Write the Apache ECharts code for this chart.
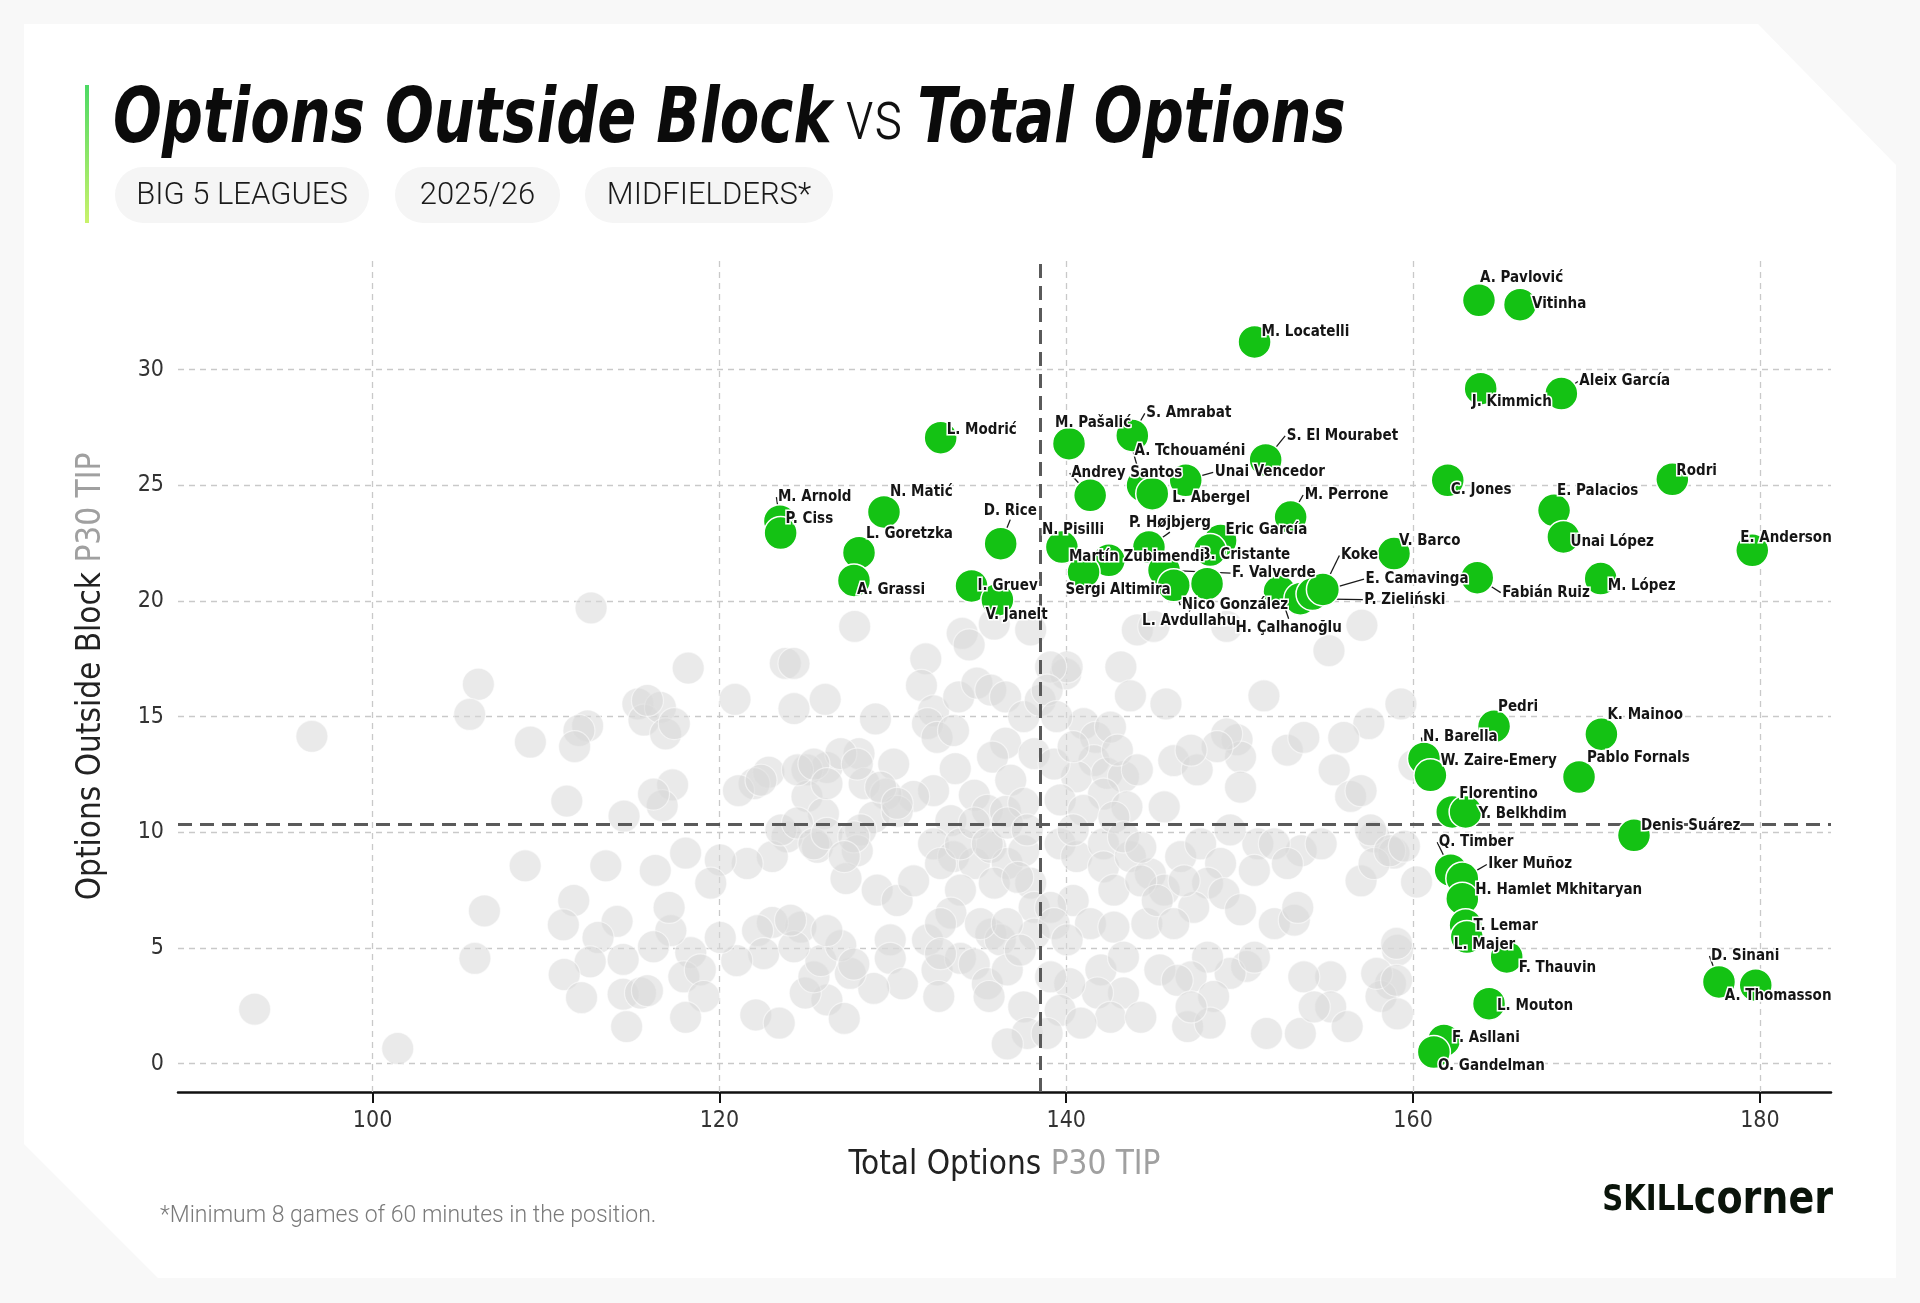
<!DOCTYPE html>
<html>
<head>
<meta charset="utf-8">
<script src="https://cdn.jsdelivr.net/npm/echarts@6/dist/echarts.min.js"></script>
<style>
  html,body{margin:0;padding:0;background:#f8f8f8;}
  #card{position:absolute;left:24px;top:24px;width:1872px;height:1254px;background:#fff;
    clip-path:polygon(0 0, 1734px 0, 1872px 141px, 1872px 1254px, 134px 1254px, 0 1120px);}
  #chart{position:absolute;left:0;top:0;width:1920px;height:1303px;}
</style>
</head>
<body>
<div id="card"></div>
<div id="chart"></div>
<script>
// ---------- DATA ----------
const xTicks = [100, 120, 140, 160, 180];
const yTicks = [0, 5, 10, 15, 20, 25, 30];
const meanTotal = 138.52;
const meanOutside = 10.33;

const greenNames = ["L. Modrić","M. Arnold","P. Ciss","N. Matić","L. Goretzka","A. Grassi","D. Rice","I. Gruev","V. Janelt",
 "M. Pašalić","S. Amrabat","A. Tchouaméni","Andrey Santos","L. Abergel","Unai Vencedor","S. El Mourabet","M. Perrone",
 "Eric García","B. Cristante","P. Højbjerg","N. Pisilli","Martín Zubimendi","Sergi Altimira","F. Valverde","Nico González",
 "L. Avdullahu","H. Çalhanoğlu","P. Zieliński","E. Camavinga","Koke","V. Barco","M. Locatelli",
 "A. Pavlović","Vitinha","J. Kimmich","Aleix García","C. Jones","E. Palacios","Unai López","Rodri","E. Anderson","Fabián Ruiz","M. López",
 "Pedri","K. Mainoo","N. Barella","W. Zaire-Emery","Pablo Fornals","Florentino","Y. Belkhdim","Denis Suárez","Q. Timber","Iker Muñoz",
 "H. Hamlet Mkhitaryan","T. Lemar","L. Majer","F. Thauvin","D. Sinani","A. Thomasson","L. Mouton","F. Asllani","O. Gandelman"];
const greenTotal = [132.76,123.49,123.53,129.49,128.05,127.76,136.22,134.54,136.03,
 140.16,143.81,144.4,141.38,144.96,146.89,151.5,152.94,
 148.9,148.3,144.77,139.75,142.46,141.0,145.64,146.2,
 148.12,152.3,153.5,154.2,154.8,158.9,150.86,
 163.8,166.17,163.9,168.55,162.0,168.13,168.67,174.95,179.56,163.7,170.82,
 164.67,170.86,160.63,161.0,169.57,162.26,163.03,172.74,162.17,162.84,
 162.84,163.03,163.1,165.4,177.64,179.76,164.38,161.78,161.2];
const greenOutside = [27.06,23.45,22.94,23.85,22.09,20.89,22.48,20.65,20.05,
 26.8,27.16,25.0,24.57,24.64,25.22,26.1,23.63,
 22.62,22.2,22.33,22.33,21.76,21.25,21.33,20.68,
 20.75,20.4,20.1,20.3,20.5,22.05,31.2,
 33.0,32.81,29.18,28.97,25.22,23.92,22.77,25.26,22.19,21.01,20.97,
 14.58,14.24,13.19,12.46,12.39,10.88,10.88,9.87,8.36,8.0,
 7.13,5.98,5.47,4.61,3.53,3.39,2.59,1.0,0.5];

const grayTotal = [112.6,106.1,105.6,96.5,109.1,112.4,111.9,111.65,115.3,115.65,111.2,114.5,108.8,113.45,106.45,111.6,111.0,114.1,113.0,105.9,112.55,114.45,111.05,112.05,114.45,115.45,114.65,93.2,101.45,
 127.8,118.2,123.8,124.3,120.9,124.3,126.1,129.0,116.6,116.9,117.4,115.85,117.3,116.7,131.9,131.65,134.0,134.4,135.85,137.95,132.35,132.0,132.55,133.5,133.8,134.85,135.65,136.5,137.55,136.5,135.75,136.8,138.15,133.6,134.7,135.45,136.5,137.55,132.35,133.35,131.2,130.05,128.05,128.35,129.6,126.2,125.05,122.85,122.0,121.1,125.05,126.0,128.9,130.25,128.15,125.65,123.9,123.05,121.6,120.05,119.5,118.05,116.3,127.95,127.3,129.1,130.25,131.2,132.35,133.5,134.7,133.9,135.65,136.6,137.55,135.85,137.95,133.35,135.65,138.15,138.15,132.0,129.85,129.85,132.55,133.9,134.7,136.2,135.45,136.6,132.65,137.55,137.75,136.6,130.55,128.9,127.55,126.2,127.2,124.95,125.45,125.85,127.0,124.7,123.05,122.2,122.55,124.3,121.0,120.05,118.35,117.95,118.9,117.2,117.1,115.85,119.1,118.05,122.1,123.45,116.2,135.55,116.2,127.0,127.95,129.3,130.25,
 122.4,124.5,125.45,126.2,123.55,124.5,125.45,126.2,127.75,127.2,132.75,133.9,134.7,135.45,136.6,137.75,137.2,132.75,135.05,136.6,137.35,132.75,124.1,126.2,127.75,138.5,139.97,
 144.1,145.05,149.25,157.05,155.15,140.05,143.15,143.7,145.75,151.4,159.3,139.1,138.9,141.0,141.7,142.55,141.6,140.6,142.35,143.3,139.3,139.65,142.15,143.5,145.65,146.2,147.55,149.85,150.05,150.05,149.25,152.75,153.7,155.45,156.4,157.45,156.0,
 139.65,140.6,142.15,142.15,143.7,144.85,142.75,140.4,139.1,141.4,142.75,144.65,145.65,146.6,147.75,148.9,148.15,149.1,150.05,147.35,151.05,150.85,153.55,154.7,152.0,153.15,153.35,157.0,157.75,158.9,159.1,158.7,158.15,159.1,155.25,155.25,156.2,153.7,151.55,153.5,150.4,149.45,148.15,147.2,148.5,147.0,148.3,145.4,143.3,142.0,141.8,142.55,144.3,140.2,139.65,140.85,139.1,138.9,157.75,144.3,145.25,146.2,157.0,
 139.45,140.4,142.95,144.1,141.0,142.75,140.4,143.3,144.3,146.8,149.45,152.0,152.75,148.7,147.2,157.55,139.3,140.05,143.3,146.4,147.2,150.85,154.3,157.9,
 160.05,158.65,159.05,159.05,160.2,159.5];
const grayOutside = [19.7,16.4,15.1,14.15,13.9,14.6,14.4,13.7,15.55,14.85,11.35,10.7,8.55,8.55,6.6,7.05,6.0,6.15,5.45,4.55,4.4,4.5,3.85,2.85,3.0,3.05,1.6,2.35,0.65,
 18.9,17.1,17.3,17.3,15.75,15.35,15.75,14.9,15.4,14.25,14.7,15.7,12.05,11.15,17.5,16.35,18.6,18.1,19.0,18.75,15.25,14.7,14.1,14.4,15.85,16.45,16.15,15.85,15.0,13.85,13.25,12.25,13.4,12.75,11.6,10.95,10.9,11.25,11.8,10.5,11.55,12.95,13.4,12.1,11.65,12.8,12.7,12.6,12.1,11.8,11.55,10.8,10.65,10.9,10.1,9.35,9.8,8.95,8.65,8.8,7.8,9.1,8.35,9.2,8.0,7.5,7.05,7.9,9.5,8.95,8.65,7.5,9.35,8.65,9.2,7.8,7.8,6.5,5.6,6.75,5.6,5.35,5.35,4.55,4.05,4.55,4.3,5.35,3.45,4.05,2.9,2.45,1.3,0.85,3.45,3.25,3.9,2.75,1.95,3.05,3.75,4.45,5.1,5.9,6.1,5.75,4.75,5.05,4.45,5.45,4.8,3.75,4.05,5.75,6.75,3.15,2.9,2.0,2.1,1.75,5.05,2.9,11.65,13.4,12.95,11.95,11.25,
 12.25,12.7,12.95,12.1,10.1,10.4,9.5,9.95,9.8,8.95,8.65,9.5,10.4,9.5,10.4,10.1,8.05,6.05,6.05,6.05,4.9,4.75,6.2,5.75,4.3,15.7,16.85,
 18.75,18.9,18.9,18.95,17.85,17.15,17.15,15.9,15.55,15.9,15.55,17.15,16.15,14.7,14.1,14.55,13.1,12.4,12.55,12.4,12.95,11.4,11.65,11.1,11.1,13.1,12.7,14.0,13.25,11.95,14.25,13.55,14.1,12.7,11.55,14.7,14.1,
 9.5,8.95,9.5,8.5,8.95,8.2,7.5,7.05,6.75,6.05,5.9,6.05,7.5,8.95,9.5,8.65,7.8,7.35,6.65,6.75,9.5,8.35,9.2,9.5,6.05,6.2,6.75,7.9,9.8,9.1,4.9,3.45,2.9,2.15,3.75,2.45,1.6,3.75,1.3,1.3,4.2,3.9,4.6,3.75,2.9,1.6,1.75,4.05,3.05,4.05,3.05,2.0,2.0,3.45,2.3,1.75,3.75,1.3,8.65,7.9,7.05,6.05,11.8,
 15.0,13.7,13.55,12.7,10.95,10.65,10.1,9.8,9.35,7.9,10.1,9.5,8.65,13.7,13.55,10.1,6.05,5.35,4.6,3.6,2.45,4.6,2.45,3.9,
 12.9,9.2,5.2,3.6,7.85,9.4];

// ---------- LAYOUT / STYLE (not data) ----------
const labelOffsets = {
 "L. Modrić":[6,-8],"M. Arnold":[-2,-24],"P. Ciss":[5,-14],"N. Matić":[6,-20],"L. Goretzka":[7,-19],"A. Grassi":[3,10],
 "D. Rice":[-17,-33],"I. Gruev":[6,0],"V. Janelt":[-12,15],
 "M. Pašalić":[-14,-21],"S. Amrabat":[14,-22],"A. Tchouaméni":[-8,-34],"Andrey Santos":[-19,-22],"L. Abergel":[20,4],
 "Unai Vencedor":[29,-8],"S. El Mourabet":[21,-24],"M. Perrone":[14,-22],"Eric García":[5,-10],"B. Cristante":[-10,5],
 "P. Højbjerg":[-20,-24],"N. Pisilli":[-20,-17],"Martín Zubimendi":[-40,-3],"Sergi Altimira":[-18,18],"F. Valverde":[68,3],
 "Nico González":[8,20],"L. Avdullahu":[-65,37],"H. Çalhanoğlu":[-44,36],"P. Zieliński":[64,1],"E. Camavinga":[53,-15],
 "Koke":[18,-34],"V. Barco":[5,-12],"M. Locatelli":[7,-10],
 "A. Pavlović":[1,-22],"Vitinha":[12,-1],"J. Kimmich":[-9,13],"Aleix García":[18,-12],"C. Jones":[3,10],"E. Palacios":[3,-19],
 "Unai López":[7,5],"Rodri":[4,-8],"E. Anderson":[-12,-12],"Fabián Ruiz":[25,15],"M. López":[7,8],
 "Pedri":[4,-19],"K. Mainoo":[6,-19],"N. Barella":[-1,-21],"W. Zaire-Emery":[10,-14],"Pablo Fornals":[8,-19],
 "Florentino":[7,-18],"Y. Belkhdim":[13,2],"Denis Suárez":[7,-9],"Q. Timber":[-12,-28],"Iker Muñoz":[26,-14],
 "H. Hamlet Mkhitaryan":[13,-9],"T. Lemar":[8,1],"L. Majer":[-13,8],"F. Thauvin":[12,11],"D. Sinani":[-8,-26],
 "A. Thomasson":[-31,11],"L. Mouton":[8,2],"F. Asllani":[8,-2],"O. Gandelman":[4,14]
};
const leaders = new Set(["M. Arnold","D. Rice","S. Amrabat","A. Tchouaméni","Andrey Santos","Unai Vencedor","S. El Mourabet",
 "M. Perrone","P. Højbjerg","F. Valverde","Nico González","L. Avdullahu","H. Çalhanoğlu","P. Zieliński","E. Camavinga","Koke",
 "Fabián Ruiz","Q. Timber","Iker Muñoz","N. Barella","D. Sinani","Aleix García"]);

const F = '"DejaVu Sans Condensed","Liberation Sans Narrow","Liberation Sans",sans-serif';
const FL = 'Roboto,"Noto Sans",sans-serif';
const GREEN = '#14c214';

const grayData = grayTotal.map((x, i) => [x, grayOutside[i]]);
const greenData = greenNames.map((n, i) => ({
  name: n, value: [greenTotal[i], greenOutside[i]],
  labelLine: { show: leaders.has(n) }
}));

const chart = echarts.init(document.getElementById('chart'), null, {renderer: 'canvas'});
const pill = (x, w, text) => ([
  {type:'rect', shape:{x:x, y:167, width:w, height:56, r:28}, style:{fill:'#f5f5f5'}, z:1},
  {type:'text', x:x + w/2, y:196, style:{text:text, font:'300 31px ' + FL, fill:'#1a1a1a', textAlign:'center', textVerticalAlign:'middle'}, z:2}
]);

chart.setOption({
  backgroundColor: 'transparent',
  animation: false,
  graphic: [
    {type:'rect', shape:{x:85, y:85, width:4, height:138},
      style:{fill:new echarts.graphic.LinearGradient(0,0,0,1,[{offset:0,color:'#4cd964'},{offset:1,color:'#c9f26b'}])}},
    {type:'text', x:113, y:83, scaleX:0.83, originX:0, originY:0, style:{
      text:'{b|Options Outside Block}{l| vs }{b|Total Options}', textVerticalAlign:'top',
      rich:{
        b:{fontSize:77, fontWeight:'bold', fontStyle:'italic', fontFamily:F, fill:'#0b0b0b', color:'#0b0b0b'},
        l:{fontSize:70, fontWeight:300, fontFamily:FL, fill:'#111', color:'#111'}
      }}},
    ...pill(115, 254, 'BIG 5 LEAGUES'),
    ...pill(395, 165, '2025/26'),
    ...pill(585, 248, 'MIDFIELDERS*'),
    {type:'text', x:160, y:1216, style:{text:'*Minimum 8 games of 60 minutes in the position.', font:'300 23px ' + FL, fill:'#7a7a7a', textVerticalAlign:'middle'}},
    {type:'text', x:1833, y:1224, scaleX:0.9, originX:0, originY:0, style:{
      text:'{a|SKILL}{b|corner}', textAlign:'right', textVerticalAlign:'bottom',
      rich:{a:{fontSize:36, fontWeight:'bold', fontFamily:F, fill:'#0a140a', color:'#0a140a'},
            b:{fontSize:47, fontWeight:'bold', fontFamily:F, fill:'#0a140a', color:'#0a140a'}}}}
  ],
  grid: {left:178, right:89, top:261, bottom:211, containLabel:false},
  xAxis: {
    type:'value', min:88.78, max:184.1,
    axisLine:{show:true, onZero:false, lineStyle:{color:'#111', width:2.5}},
    axisTick:{show:true, customValues:xTicks, length:11, lineStyle:{color:'#111', width:2}},
    axisLabel:{customValues:xTicks, margin:18, fontSize:23, color:'#333', fontFamily:F},
    splitLine:{show:false},
    name:'{b|Total Options }{l|P30 TIP}', nameLocation:'middle', nameGap:57,
    nameTextStyle:{rich:{b:{fontSize:33, color:'#222', fontFamily:F},
                         l:{fontSize:33, color:'#a0a0a0', fontFamily:F}}}
  },
  yAxis: {
    type:'value', min:-1.23, max:34.7,
    axisLine:{show:false}, axisTick:{show:false},
    axisLabel:{customValues:yTicks, margin:14, fontSize:23, color:'#333', fontFamily:F},
    splitLine:{show:false},
    name:'{b|Options Outside Block }{l|P30 TIP}', nameLocation:'middle', nameGap:70,
    nameTextStyle:{rich:{b:{fontSize:33, color:'#222', fontFamily:F},
                         l:{fontSize:33, color:'#a0a0a0', fontFamily:F}}}
  },
  series: [
    { type:'scatter', data:[], z:1, silent:true,
      markLine:{ z:1, silent:true, symbol:'none', animation:false, label:{show:false},
        lineStyle:{color:'#c9c9c9', type:[6,5], width:1.3},
        data: [...yTicks.map(v => ({yAxis:v})), ...xTicks.map(v => ({xAxis:v}))] } },
    { type:'scatter', data:grayData, z:2, silent:true, symbolSize:32,
      itemStyle:{color:'#d9d9d9', opacity:0.55, borderColor:'#ffffff', borderWidth:1.2} },
    { type:'scatter', data:[], z:3, silent:true,
      markLine:{ z:3, silent:true, symbol:'none', animation:false, label:{show:false},
        lineStyle:{color:'#5a5a5a', type:[14,8], width:3},
        data:[{xAxis:meanTotal}, {yAxis:meanOutside}] } },
    { type:'scatter', data:greenData, z:4, symbolSize:33,
      itemStyle:{color:GREEN, opacity:1, borderColor:'#ffffff', borderWidth:1.5},
      label:{show:true, formatter:'{b}', fontSize:15, fontWeight:'bold', fontFamily:F, color:'#151515',
             textBorderColor:'#ffffff', textBorderWidth:3},
      labelLine:{show:false, lineStyle:{color:'#1a1a1a', width:1.3}},
      labelLayout: function (p) {
        const n = greenNames[p.dataIndex];
        const o = labelOffsets[n] || [8, -12];
        const cx = p.rect.x + p.rect.width / 2, cy = p.rect.y + p.rect.height / 2;
        return {x: cx + o[0], y: cy + o[1], align:'left', verticalAlign:'middle', hideOverlap:false};
      } }
  ]
});
</script>
</body>
</html>
